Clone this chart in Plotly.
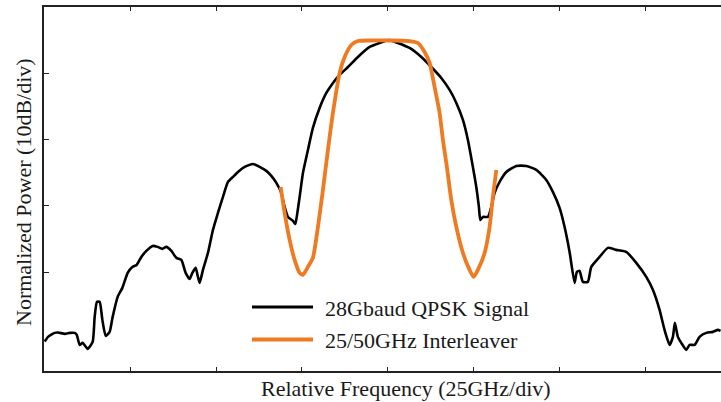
import plotly.graph_objects as go

# Relative frequency (GHz) and normalized power (dB)
sig_freq = [-99.85, -98.89, -96.94, -95.98, -93.99, -92.54, -91.09, -90.51, -89.68, -88.80,
            -87.35, -85.89, -85.31, -84.64, -83.86, -83.07, -82.11, -80.95, -80.08, -78.62,
            -77.25, -75.71, -74.35, -73.10, -71.73, -70.28, -68.44, -66.99, -65.62, -64.46,
            -63.00, -61.55, -60.09, -58.84, -57.68, -56.89, -55.93, -55.26, -54.77, -53.81,
            -52.36, -50.90, -49.45, -47.99, -46.54, -45.08, -43.63, -41.68, -39.27, -37.32,
            -35.37, -33.92, -32.46, -31.01, -30.05, -29.09, -27.63, -26.93, -26.35, -25.68,
            -24.72, -23.27, -21.82, -19.87, -17.92, -15.98, -14.05, -11.63, -8.73, -5.32,
            -2.41, 0.29, 2.91, 6.31, 9.72, 12.62, 15.53, 17.95, 19.90, 21.82,
            23.27, 24.72, 25.71, 26.47, 26.88, 27.63, 29.09, 30.08, 31.04, 32.49,
            34.44, 37.35, 40.26, 43.17, 46.07, 47.99, 49.94, 51.40, 52.85, 54.31,
            54.97, 55.76, 56.72, 58.17, 59.16, 61.58, 63.99, 66.43, 69.34, 72.25,
            75.16, 77.08, 79.03, 80.48, 81.94, 82.90, 83.48, 84.35, 85.34, 86.80,
            87.76, 89.21, 90.66, 92.61, 94.53, 95.99, 96.77]
sig_power = [-50.46, -49.75, -49.15, -49.10, -49.30, -49.15, -49.15, -49.45, -50.96, -50.66,
             -51.56, -50.51, -46.74, -44.47, -44.47, -47.19, -49.60, -49.00, -46.74, -43.72,
             -42.36, -40.10, -39.20, -38.90, -37.69, -36.79, -36.03, -36.18, -36.48, -36.18,
             -36.79, -37.84, -38.14, -40.10, -41.01, -40.10, -39.35, -40.71, -41.61, -39.65,
             -37.09, -33.62, -31.06, -28.64, -26.38, -25.63, -24.88, -24.12, -23.67, -24.12,
             -24.72, -25.48, -26.53, -28.04, -30.15, -31.66, -32.26, -32.72, -31.06, -28.64,
             -25.03, -21.56, -18.24, -15.23, -12.97, -11.46, -10.25, -9.05, -7.54, -6.03,
             -5.43, -4.98, -5.43, -6.18, -7.54, -9.05, -10.70, -12.51, -14.47, -17.04,
             -20.05, -24.12, -27.14, -30.15, -32.11, -31.66, -31.66, -30.15, -28.04, -26.38,
             -24.88, -23.97, -23.97, -24.57, -26.08, -27.89, -30.30, -33.17, -36.94, -41.61,
             -39.95, -39.80, -41.46, -41.46, -39.20, -37.69, -36.33, -36.63, -36.94, -38.59,
             -40.71, -42.66, -45.68, -48.70, -50.96, -49.75, -47.64, -49.75, -50.66, -51.71,
             -50.96, -50.96, -49.75, -49.15, -49.00, -48.70, -48.85]

filt_freq = [-31.21, -30.05, -28.59, -27.14, -25.68, -24.72, -23.27, -21.82, -20.36, -18.91,
             -17.45, -16.00, -14.05, -12.59, -10.65, -8.73, -5.32, 0.20, 6.31, 8.73,
             10.67, 12.13, 13.58, 15.04, 16.00, 17.16, 18.44, 19.90, 21.82, 23.76,
             24.93, 26.18, 28.13, 29.58, 30.54, 31.53]
filt_power = [-27.14, -31.06, -35.13, -38.14, -40.10, -40.40, -39.20, -37.84, -33.17, -27.59,
              -21.56, -15.98, -9.95, -7.54, -5.73, -5.13, -5.05, -5.05, -5.13, -5.43,
              -6.78, -8.44, -12.06, -15.98, -20.05, -24.12, -29.10, -33.17, -37.09, -39.65,
              -40.71, -39.65, -37.09, -33.17, -28.64, -24.57]

x_ticks = [-75, -50, -25, 0, 25, 50, 75]
y_ticks = [0, -10, -20, -30, -40]
legend_names = ["28Gbaud QPSK Signal", "25/50GHz Interleaver"]
colors = ["#000000", "#EE7B22"]

FONT = "Liberation Serif, Times New Roman, serif"

fig = go.Figure()
fig.add_trace(go.Scatter(x=sig_freq, y=sig_power, mode="lines",
                         line=dict(color=colors[0], width=2.6, shape="spline", smoothing=0.5),
                         showlegend=False))
fig.add_trace(go.Scatter(x=filt_freq, y=filt_power, mode="lines",
                         line=dict(color=colors[1], width=3.8, shape="spline", smoothing=0.6),
                         showlegend=False))

W, H = 721, 402
L, T, B, R = 44, 7, 31, 0
pw, ph = W - L - R, H - T - B

def px(x):
    return (x - L) / pw

def py(y):
    return (H - B - y) / ph

# manual legend
for i, (name, col) in enumerate(zip(legend_names, colors)):
    yy = [307, 339.5][i]
    fig.add_shape(type="line", xref="paper", yref="paper",
                  x0=px(252), x1=px(313), y0=py(yy), y1=py(yy),
                  line=dict(color=col, width=[2.8, 4.2][i]))
    fig.add_annotation(x=px(323), y=py(yy + 1), xref="paper", yref="paper",
                       text=name, showarrow=False, xanchor="left", yanchor="middle",
                       font=dict(family=FONT, size=22, color="#1a1a1a"))

fig.add_annotation(x=px(406), y=py(388), xref="paper", yref="paper",
                   text="Relative Frequency (25GHz/div)", showarrow=False,
                   xanchor="center", yanchor="middle",
                   font=dict(family=FONT, size=22, color="#1a1a1a"))
fig.add_annotation(x=px(23), y=py(192), xref="paper", yref="paper",
                   text="Normalized Power (10dB/div)", showarrow=False, textangle=-90,
                   xanchor="center", yanchor="middle",
                   font=dict(family=FONT, size=22, color="#1a1a1a"))

fig.update_layout(
    width=W, height=H,
    margin=dict(l=L, r=R, t=T, b=B, pad=0),
    paper_bgcolor="white", plot_bgcolor="white",
    showlegend=False,
    xaxis=dict(range=[-100.05, 96.9], tickvals=x_ticks, showticklabels=False,
               ticks="inside", ticklen=4, tickwidth=1.2, tickcolor="#222",
               showline=True, linecolor="#222", linewidth=1.6, mirror="ticks",
               showgrid=False, zeroline=False),
    yaxis=dict(range=[-54.9, 0], tickvals=y_ticks, showticklabels=False,
               ticks="inside", ticklen=5, tickwidth=1.2, tickcolor="#222",
               showline=True, linecolor="#222", linewidth=1.6, mirror=False,
               showgrid=False, zeroline=False),
)

fig.write_html("out.html")
